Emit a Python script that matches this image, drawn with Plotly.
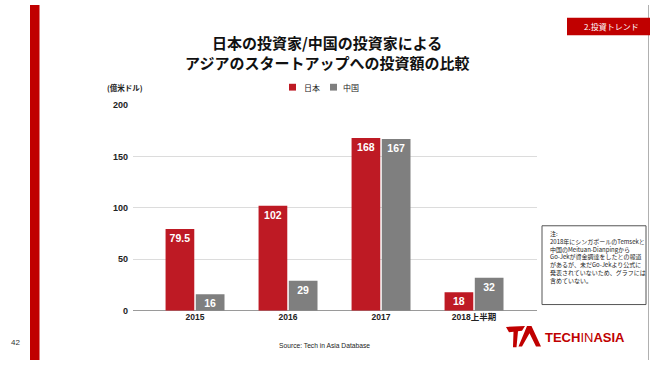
import plotly.graph_objects as go

W, H = 650, 365

CATEGORIES = ["2015", "2016", "2017", "2018上半期"]
SERIES_NAMES = ["日本", "中国"]
JAPAN = [79.5, 102, 168, 18]
CHINA = [16, 29, 167, 32]
Y_TICKS = [0, 50, 100, 150, 200]
TITLE_LINES = ["日本の投資家/中国の投資家による", "アジアのスタートアップへの投資額の比較"]
UNIT_LABEL = "(億米ドル)"
SOURCE = "Source: Tech in Asia Database"
PAGE_NO = "42"
TAB_TEXT = "2.投資トレンド"
NOTE_LINES = [
    "注:",
    "2018年にシンガポールのTemsekと",
    "中国のMeituan-Dianpingから",
    "Go-Jekが資金調達をしたとの報道",
    "があるが、未だGo-Jekより公式に",
    "発表されていないため、グラフには",
    "含めていない。",
]

RED = "#be1a24"
GRAY = "#7f7f7f"
DARK_RED = "#c00000"
FONT = "Liberation Sans, Noto Sans CJK JP, sans-serif"
JFONT = "Noto Sans CJK JP, sans-serif"


def X(px):
    return px / W


def Y(py):
    return 1 - py / H


fig = go.Figure()
for name, vals, col in [(SERIES_NAMES[0], JAPAN, RED), (SERIES_NAMES[1], CHINA, GRAY)]:
    fig.add_trace(go.Bar(
        x=CATEGORIES, y=vals, name=name, marker=dict(color=col, line=dict(width=0)),
        texttemplate="<b>%{y}</b>", textposition="inside", insidetextanchor="end",
        textangle=0, constraintext="none",
        textfont=dict(family=FONT, size=10.5, color="white"),
        showlegend=False, cliponaxis=False, hoverinfo="skip",
    ))

shapes = [
    # left red stripe
    dict(type="rect", xref="paper", yref="paper", x0=X(30), x1=X(39.5), y0=0, y1=1,
         fillcolor=DARK_RED, line=dict(width=0), layer="below"),
    # right border
    dict(type="line", xref="paper", yref="paper", x0=X(648.5), x1=X(648.5), y0=0, y1=1,
         line=dict(color="#b0b0b0", width=1)),
    # tab
    dict(type="rect", xref="paper", yref="paper", x0=X(567), x1=X(650), y0=Y(31), y1=Y(13),
         fillcolor=DARK_RED, line=dict(width=0)),
    # note box
    dict(type="rect", xref="paper", yref="paper", x0=X(542), x1=X(646), y0=Y(308), y1=Y(227),
         fillcolor="white", line=dict(color="#555555", width=1)),
    # legend squares
    dict(type="rect", xref="paper", yref="paper", x0=X(289), x1=X(296), y0=Y(88), y1=Y(81),
         fillcolor=RED, line=dict(width=0)),
    dict(type="rect", xref="paper", yref="paper", x0=X(330), x1=X(337), y0=Y(88), y1=Y(81),
         fillcolor=GRAY, line=dict(width=0)),
]


def poly(pts):
    return "M " + " L ".join(f"{X(px):.5f},{Y(py):.5f}" for px, py in pts) + " Z"


# logo mark: slanted "T" and "A"
logo_T = [(506, 331), (525, 330), (522, 335), (518, 335.5), (516.5, 352), (513, 352),
          (513.5, 336), (509, 336.5)]
logo_A = [(527, 330), (531.5, 330), (541, 351), (536, 351), (529.5, 337.5), (522, 351),
          (518.5, 351)]
for pts in (logo_T, logo_A):
    shapes.append(dict(type="path", xref="paper", yref="paper", path=poly(pts),
                       fillcolor=DARK_RED, line=dict(width=0)))

ann = []
for line, py in zip(TITLE_LINES, [38.3, 59.5]):
    ann.append(dict(text=f"<b>{line}</b>", x=X(327), y=Y(py), xref="paper", yref="paper",
                    xanchor="center", yanchor="middle", showarrow=False,
                    font=dict(family=JFONT, size=15, color="#111111")))
ann.append(dict(text=f"<b>{UNIT_LABEL}</b>", x=X(105), y=Y(84.5), xref="paper", yref="paper",
                xanchor="left", yanchor="middle", showarrow=False,
                font=dict(family=JFONT, size=7.5, color="#222222")))
ann.append(dict(text=SERIES_NAMES[0], x=X(302), y=Y(84.5), xref="paper", yref="paper",
                xanchor="left", yanchor="middle", showarrow=False,
                font=dict(family=JFONT, size=8, color="#222222")))
ann.append(dict(text=SERIES_NAMES[1], x=X(341), y=Y(84.5), xref="paper", yref="paper",
                xanchor="left", yanchor="middle", showarrow=False,
                font=dict(family=JFONT, size=8, color="#222222")))
ann.append(dict(text=TAB_TEXT, x=X(611), y=Y(22), xref="paper", yref="paper",
                xanchor="center", yanchor="middle", showarrow=False,
                font=dict(family=JFONT, size=8, color="white")))
ann.append(dict(text=SOURCE, x=X(324), y=Y(350), xref="paper", yref="paper",
                xanchor="center", yanchor="middle", showarrow=False,
                font=dict(family=FONT, size=6.7, color="#222222")))
ann.append(dict(text=PAGE_NO, x=X(15), y=Y(347), xref="paper", yref="paper",
                xanchor="center", yanchor="middle", showarrow=False,
                font=dict(family=FONT, size=8, color="#333333")))
ann.append(dict(text="<br>".join(NOTE_LINES), x=X(548), y=Y(259), xref="paper", yref="paper",
                xanchor="left", yanchor="middle", align="left", showarrow=False,
                font=dict(family=JFONT, size=6, color="#222222")))
ann.append(dict(text="<b>TECH</b>IN<b>ASIA</b>", x=X(543), y=Y(341.5), xref="paper", yref="paper",
                xanchor="left", yanchor="middle", showarrow=False,
                font=dict(family=FONT, size=13, color=DARK_RED)))

fig.update_layout(
    width=W, height=H,
    margin=dict(l=0, r=0, t=0, b=0),
    paper_bgcolor="white", plot_bgcolor="white",
    barmode="group", bargap=0.35, bargroupgap=0.05,
    shapes=shapes, annotations=ann,
    xaxis=dict(domain=[X(133), X(537)], range=[-0.667, 3.677], type="category",
               showgrid=False, showline=False, ticks="",
               tickfont=dict(family=FONT, size=8.5, color="#222222", weight="bold")),
    yaxis=dict(domain=[Y(314.3), Y(102.8)], range=[0, 200], tickvals=Y_TICKS,
               showgrid=True, gridcolor="#dcdcdc", gridwidth=1,
               zeroline=True, zerolinecolor="#9a9a9a", zerolinewidth=1,
               showline=False, ticks="", ticklabelstandoff=4,
               tickfont=dict(family=FONT, size=9, color="#222222", weight="bold")),
)

fig.write_html("out.html", config={"displayModeBar": False},
               post_script="document.body.style.margin='0';document.body.style.overflow='hidden';")
